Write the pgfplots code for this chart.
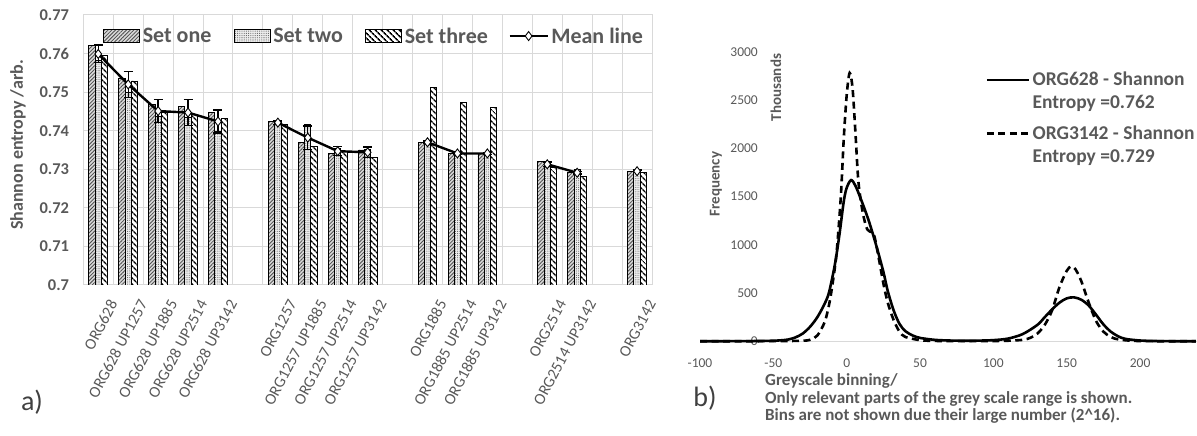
\documentclass[border=0pt]{standalone}
\usepackage{fontspec}
\setmainfont{Carlito}
\usepackage{pgfplots}
\usepackage{pgfplotstable}
\pgfplotsset{compat=1.18}
\usetikzlibrary{patterns.meta}
\definecolor{txt}{HTML}{595959}
\definecolor{gridc}{HTML}{D9D9D9}
\newcommand{\fs}[2]{\fontsize{#1}{#2}\selectfont}
\newcommand{\gap}[1]{\rule{#1}{0pt}}

% bar values per category slot (gaps at 5, 10, 14, 17)
\pgfplotstableread{
x  s1     s2     s3
0  0.7622 0.7581 0.7594
1  0.7535 0.7498 0.7529
2  0.7468 0.7438 0.7447
3  0.7464 0.7435 0.7442
4  0.7447 0.7397 0.7431
6  0.7425 0.7423 0.7415
7  0.7370 0.7416 0.7360
8  0.7341 0.7355 0.7345
9  0.7350 0.7352 0.7330
11 0.7369 0.7365 0.7512
12 0.7341 0.7340 0.7473
13 0.7341 0.7340 0.7461
15 0.7321 0.7315 0.7304
16 0.7292 0.7300 0.7281
18 0.7295 0.7296 0.7292
}\bars

\pgfplotsset{
  barleg/.style={legend image code/.code={\draw[##1] (0pt,-6.5pt) rectangle (36pt,6.5pt);}},
  meanleg/.style={legend image code/.code={\draw[mark repeat=2,mark phase=2,##1] plot coordinates {(0pt,0pt) (19pt,0pt) (38pt,0pt)};}},
  lineleg/.style={legend image code/.code={\draw[##1] (0pt,18.5pt) -- (42pt,18.5pt); \path (44pt,0pt);}},
  meanline/.style={black, line width=2.4pt, mark=diamond*, mark size=4.5pt,
    mark options={fill=white, draw=black, line width=0.9pt, solid},
    error bars/y dir=both, error bars/y explicit,
    error bars/error bar style={line width=1.3pt, black},
    error bars/error mark options={rotate=90, mark size=4.5pt, line width=1.3pt, black}},
}

\begin{document}
\begin{tikzpicture}
\useasboundingbox (0pt,0pt) rectangle (1197pt,436pt);

% ---------- a) ----------
\begin{axis}[
  scale only axis, at={(83.3pt,151pt)}, anchor=south west,
  width=568.7pt, height=270pt,
  xmin=-0.5, xmax=18.5, ymin=0.70, ymax=0.77,
  ytick={0.70,0.71,0.72,0.73,0.74,0.75,0.76,0.77},
  yticklabels={0.7,0.71,0.72,0.73,0.74,0.75,0.76,0.77},
  xtick={0,1,2,3,4,6,7,8,9,11,12,13,15,16,18},
  xticklabels={ORG628,ORG628 UP1257,ORG628 UP1885,ORG628 UP2514,ORG628 UP3142,
    ORG1257,ORG1257 UP1885,ORG1257 UP2514,ORG1257 UP3142,
    ORG1885,ORG1885 UP2514,ORG1885 UP3142,ORG2514,ORG2514 UP3142,ORG3142},
  minor xtick={-0.5,0.5,...,18.5},
  xminorgrids=true, ymajorgrids=true,
  grid style={gridc, line width=1pt},
  minor grid style={gridc, line width=1pt},
  axis line style={gridc, line width=1pt},
  major tick length=0pt, minor tick length=0pt,
  yticklabel style={font=\bfseries\fs{16.5}{18}, text=txt, anchor=east, inner sep=0pt, xshift=-14pt},
  xticklabel style={font=\fs{16}{18}, text=txt, xshift=15pt, yshift=-16pt, rotate=62, anchor=east, inner sep=0pt},
  legend style={at={(0.035,0.922)}, anchor=west, draw=none, fill=none,
    font=\bfseries\fs{22}{24}, text=txt, inner sep=0pt,
    nodes={inner sep=2.5pt}},
  legend columns=4,
]
\addplot[ybar, bar width=0.21, bar shift=-0.21, barleg, draw=black, line width=0.9pt,
  preaction={fill=gray!30}, pattern={Lines[angle=45,distance=2.6pt,line width=0.8pt]}, pattern color=gray!60!black]
  table[x=x,y=s1]{\bars};
\addlegendentry{Set one\gap{20pt}}
\addplot[ybar, bar width=0.21, bar shift=0, barleg, draw=black, line width=0.9pt,
  preaction={fill=gray!15}, pattern={Dots[radius=0.55pt,distance=2.2pt]}, pattern color=gray!75!black]
  table[x=x,y=s2]{\bars};
\addlegendentry{Set two\gap{20pt}}
\addplot[ybar, bar width=0.21, bar shift=0.21, barleg, draw=black, line width=0.9pt,
  preaction={fill=white}, pattern={Lines[angle=-45,distance=4pt,line width=1.6pt]}, pattern color=black]
  table[x=x,y=s3]{\bars};
\addlegendentry{Set three\gap{18pt}}

\addplot[meanline, meanleg]
  coordinates {(0,0.7599) +- (0,0.0023) (1,0.7520) +- (0,0.0034) (2,0.7451) +- (0,0.0030)
               (3,0.7447) +- (0,0.0034) (4,0.7424) +- (0,0.0030)};
\addlegendentry{Mean line}
\addplot[meanline, forget plot]
  coordinates {(6,0.7421) +- (0,0.0004) (7,0.7382) +- (0,0.0030) (8,0.7347) +- (0,0.0012) (9,0.7344) +- (0,0.0014)};
\addplot[meanline, forget plot]
  coordinates {(11,0.7370) +- (0,0.0003) (12,0.7341) +- (0,0.0003) (13,0.7341) +- (0,0.0003)};
\addplot[meanline, forget plot]
  coordinates {(15,0.7313) +- (0,0.0006) (16,0.7291) +- (0,0.0003)};
\addplot[meanline, forget plot]
  coordinates {(18,0.7295) +- (0,0.0003)};
\end{axis}

\node[font=\bfseries\fs{18}{20}, text=txt, rotate=90] at (18pt,291pt) {Shannon entropy /arb.};
\node[font=\fs{28}{32}, text=black!75] at (32pt,34pt) {a)};

% ---------- b) ----------
\begin{axis}[
  scale only axis, at={(700pt,94.7pt)}, anchor=south west,
  width=497pt, height=289.6pt,
  xmin=-100, xmax=238.8, ymin=0, ymax=3000,
  clip=false,
  axis x line*=bottom, axis y line*=left,
  y axis line style={draw=none},
  x axis line style={gridc, line width=1pt, -},
  major tick length=0pt,
  xtick={-100,-50,0,50,100,150,200},
  xticklabels={-100,-50,0,50,100,150,200},
  ytick={0,500,1000,1500,2000,2500,3000},
  yticklabels={0,500,1000,1500,2000,2500,3000},
  xticklabel style={font=\fs{13.5}{15}, text=txt, inner sep=0pt, yshift=-17pt},
  yticklabel style={font=\fs{13.5}{15}, text=txt, anchor=east, inner sep=0pt, xshift=58pt},
  legend style={at={(0.574,0.932)}, anchor=north west, draw=none, fill=none,
    font=\bfseries\fs{19.5}{23}, text=txt, inner sep=0pt,
    nodes={inner sep=0.5pt, align=left, text depth=15.8pt}},
  legend cell align=left,
]
\addplot[black, line width=2.6pt, smooth, lineleg] coordinates {
(-100,0) (-80,1) (-60,3) (-50,6) (-45,10) (-40,18) (-35,40) (-30,80) (-25,150) (-20,250)
(-15,390) (-12,510) (-8,800) (-5,1100) (-2,1450) (0,1590) (3,1670) (6,1610) (10,1460)
(15,1250) (20,1000) (25,720) (28,520) (32,320) (36,180) (40,105) (45,60) (50,35) (60,15)
(70,8) (80,6) (90,7) (100,12) (110,28) (120,75) (130,170) (135,250) (140,330) (145,400)
(150,445) (155,455) (160,430) (165,370) (170,275) (175,175) (180,100) (185,52) (190,25)
(200,8) (210,3) (220,1) (238,0)};
\addlegendentry{ORG628 - Shannon\\Entropy =0.762}
\addplot[black, line width=2.6pt, dash pattern=on 7pt off 4.5pt, smooth, lineleg] coordinates {
(-100,0) (-60,1) (-40,3) (-30,6) (-25,15) (-20,60) (-15,200) (-12,380) (-10,560) (-7,900)
(-4,1500) (-2,2100) (0,2550) (2,2780) (4,2620) (6,2150) (8,1650) (11,1330) (14,1160)
(17,1130) (19,1080) (22,850) (25,600) (28,400) (32,220) (36,100) (40,45) (50,12) (60,4)
(80,2) (100,3) (110,6) (120,15) (125,35) (130,80) (135,170) (140,320) (145,560) (150,730)
(153,775) (156,745) (160,620) (165,400) (170,210) (175,100) (180,45) (185,20) (195,5)
(210,1) (238,0)};
\addlegendentry{ORG3142 - Shannon\\Entropy =0.729}
\end{axis}

\node[font=\bfseries\fs{15}{17}, text=txt, rotate=90] at (716pt,252pt) {Frequency};
\node[font=\bfseries\fs{15}{17}, text=txt, rotate=90] at (776pt,348.5pt) {Thousands};
\node[font=\bfseries\fs{17}{17.5}, text=txt, align=left, anchor=north west, inner sep=0pt]
  at (765pt,62.5pt) {Greyscale binning/\\Only relevant parts of the grey scale range is shown.\\Bins are not shown due their large number (2\textasciicircum16).};
\node[font=\fs{28}{32}, text=black!75] at (705pt,38pt) {b)};
\end{tikzpicture}
\end{document}
